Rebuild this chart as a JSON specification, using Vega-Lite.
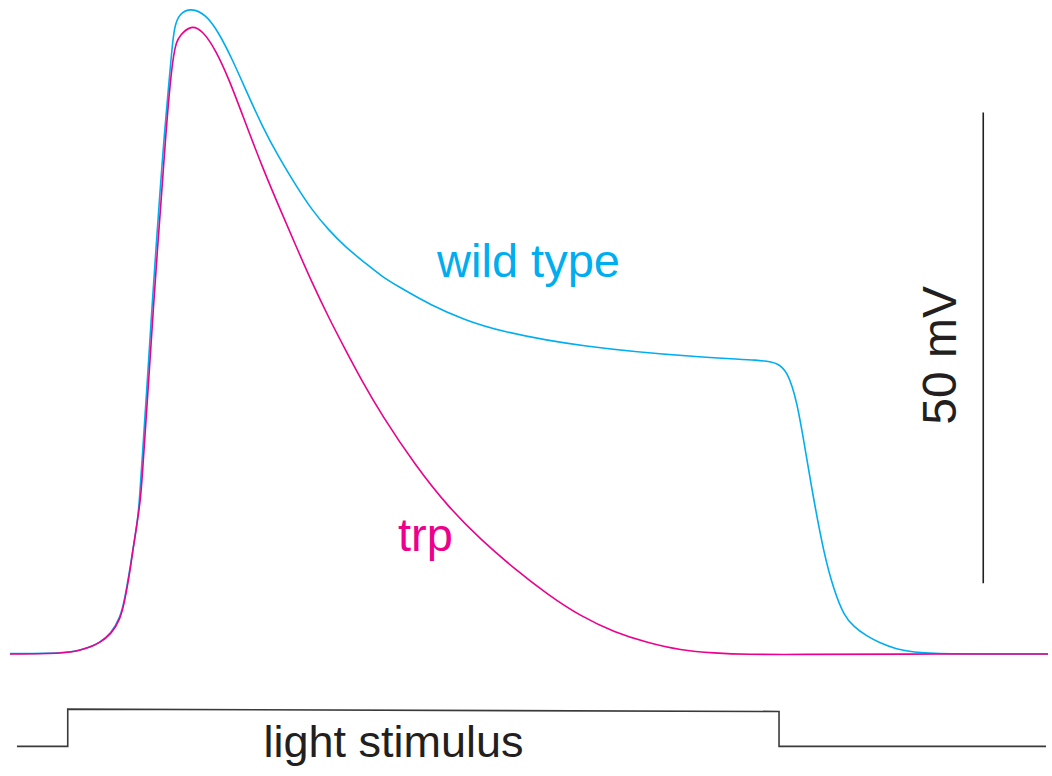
{
  "$schema": "https://vega.github.io/schema/vega-lite/v6.json",
  "width": 1052,
  "height": 776,
  "padding": 0,
  "autosize": {"type": "fit", "contains": "padding"},
  "background": "white",
  "config": {"view": {"stroke": null}},
  "datasets": {
    "traces": [
      {"series": "wild type", "t": 10, "mV": 0.05},
      {"series": "wild type", "t": 67, "mV": 0.1},
      {"series": "wild type", "t": 80, "mV": 0.4},
      {"series": "wild type", "t": 90, "mV": 0.7},
      {"series": "wild type", "t": 100, "mV": 1.2},
      {"series": "wild type", "t": 111.7, "mV": 2.2},
      {"series": "wild type", "t": 120.7, "mV": 3.9},
      {"series": "wild type", "t": 125, "mV": 5.7},
      {"series": "wild type", "t": 130.7, "mV": 9.2},
      {"series": "wild type", "t": 136, "mV": 12.8},
      {"series": "wild type", "t": 138, "mV": 14.2},
      {"series": "wild type", "t": 140, "mV": 16.3},
      {"series": "wild type", "t": 143.3, "mV": 21.7},
      {"series": "wild type", "t": 146.7, "mV": 27.0},
      {"series": "wild type", "t": 153, "mV": 37.6},
      {"series": "wild type", "t": 156.5, "mV": 42.9},
      {"series": "wild type", "t": 160, "mV": 48.2},
      {"series": "wild type", "t": 165, "mV": 55.3},
      {"series": "wild type", "t": 169.5, "mV": 60.6},
      {"series": "wild type", "t": 172.5, "mV": 64.1},
      {"series": "wild type", "t": 175, "mV": 66.6},
      {"series": "wild type", "t": 180, "mV": 68.0},
      {"series": "wild type", "t": 191.7, "mV": 68.6},
      {"series": "wild type", "t": 206.7, "mV": 67.9},
      {"series": "wild type", "t": 220, "mV": 65.9},
      {"series": "wild type", "t": 233.3, "mV": 63.1},
      {"series": "wild type", "t": 246.7, "mV": 59.9},
      {"series": "wild type", "t": 263.3, "mV": 56.0},
      {"series": "wild type", "t": 280, "mV": 52.7},
      {"series": "wild type", "t": 296.7, "mV": 49.8},
      {"series": "wild type", "t": 313.3, "mV": 47.1},
      {"series": "wild type", "t": 330, "mV": 45.0},
      {"series": "wild type", "t": 346.7, "mV": 43.2},
      {"series": "wild type", "t": 366.7, "mV": 41.5},
      {"series": "wild type", "t": 383, "mV": 40.1},
      {"series": "wild type", "t": 400, "mV": 39.0},
      {"series": "wild type", "t": 433, "mV": 37.0},
      {"series": "wild type", "t": 466, "mV": 35.5},
      {"series": "wild type", "t": 500, "mV": 34.3},
      {"series": "wild type", "t": 583, "mV": 32.6},
      {"series": "wild type", "t": 700, "mV": 31.5},
      {"series": "wild type", "t": 767, "mV": 31.2},
      {"series": "wild type", "t": 780, "mV": 30.9},
      {"series": "wild type", "t": 790, "mV": 30.1},
      {"series": "wild type", "t": 800, "mV": 27.0},
      {"series": "wild type", "t": 810, "mV": 20.6},
      {"series": "wild type", "t": 817, "mV": 16.3},
      {"series": "wild type", "t": 827, "mV": 10.7},
      {"series": "wild type", "t": 837, "mV": 6.8},
      {"series": "wild type", "t": 847, "mV": 4.1},
      {"series": "wild type", "t": 857, "mV": 2.9},
      {"series": "wild type", "t": 870, "mV": 1.9},
      {"series": "wild type", "t": 883, "mV": 1.2},
      {"series": "wild type", "t": 900, "mV": 0.5},
      {"series": "wild type", "t": 917, "mV": 0.2},
      {"series": "wild type", "t": 940, "mV": 0.0},
      {"series": "wild type", "t": 1052, "mV": 0.0},
      {"series": "trp", "t": 10, "mV": 0.0},
      {"series": "trp", "t": 67, "mV": 0.05},
      {"series": "trp", "t": 80, "mV": 0.4},
      {"series": "trp", "t": 90, "mV": 0.7},
      {"series": "trp", "t": 100, "mV": 1.2},
      {"series": "trp", "t": 111.7, "mV": 2.1},
      {"series": "trp", "t": 120.7, "mV": 3.7},
      {"series": "trp", "t": 125, "mV": 5.5},
      {"series": "trp", "t": 130.7, "mV": 8.9},
      {"series": "trp", "t": 133.3, "mV": 11.0},
      {"series": "trp", "t": 136.5, "mV": 13.1},
      {"series": "trp", "t": 139, "mV": 14.9},
      {"series": "trp", "t": 141.5, "mV": 16.8},
      {"series": "trp", "t": 144.5, "mV": 21.6},
      {"series": "trp", "t": 148, "mV": 27.0},
      {"series": "trp", "t": 154.5, "mV": 37.6},
      {"series": "trp", "t": 158, "mV": 42.9},
      {"series": "trp", "t": 161.8, "mV": 48.2},
      {"series": "trp", "t": 166.5, "mV": 55.3},
      {"series": "trp", "t": 171, "mV": 60.9},
      {"series": "trp", "t": 174.5, "mV": 63.8},
      {"series": "trp", "t": 177, "mV": 64.9},
      {"series": "trp", "t": 180, "mV": 65.6},
      {"series": "trp", "t": 191.7, "mV": 66.8},
      {"series": "trp", "t": 203.3, "mV": 66.2},
      {"series": "trp", "t": 216.7, "mV": 64.1},
      {"series": "trp", "t": 230, "mV": 61.0},
      {"series": "trp", "t": 246.7, "mV": 56.3},
      {"series": "trp", "t": 263.3, "mV": 51.7},
      {"series": "trp", "t": 280, "mV": 47.5},
      {"series": "trp", "t": 296.7, "mV": 43.4},
      {"series": "trp", "t": 313.3, "mV": 39.4},
      {"series": "trp", "t": 330, "mV": 35.7},
      {"series": "trp", "t": 346.7, "mV": 32.3},
      {"series": "trp", "t": 363.3, "mV": 29.0},
      {"series": "trp", "t": 383, "mV": 25.4},
      {"series": "trp", "t": 417, "mV": 20.0},
      {"series": "trp", "t": 450, "mV": 15.6},
      {"series": "trp", "t": 483, "mV": 12.1},
      {"series": "trp", "t": 517, "mV": 9.0},
      {"series": "trp", "t": 550, "mV": 6.3},
      {"series": "trp", "t": 583, "mV": 4.0},
      {"series": "trp", "t": 617, "mV": 2.3},
      {"series": "trp", "t": 650, "mV": 1.2},
      {"series": "trp", "t": 683, "mV": 0.4},
      {"series": "trp", "t": 717, "mV": 0.1},
      {"series": "trp", "t": 750, "mV": -0.05},
      {"series": "trp", "t": 800, "mV": -0.05},
      {"series": "trp", "t": 900, "mV": 0.0},
      {"series": "trp", "t": 1052, "mV": 0.0}
    ],
    "stimulus": [
      {"i": 0, "t": 17, "mV": -9.8},
      {"i": 1, "t": 68, "mV": -9.8},
      {"i": 2, "t": 68, "mV": -5.85},
      {"i": 3, "t": 782, "mV": -6.1},
      {"i": 4, "t": 782, "mV": -9.8},
      {"i": 5, "t": 1050, "mV": -9.8}
    ],
    "scalebar": [{"t": 987, "from": 57.5, "to": 7.5}],
    "labels": [
      {"text": "wild type", "t": 530.5, "mV": 40.0, "kind": "wild type"},
      {"text": "trp", "t": 427, "mV": 10.9, "kind": "trp"}
    ]
  },
  "layer": [
    {
      "data": {"name": "traces"},
      "mark": {"type": "line", "strokeWidth": 1.6, "interpolate": "basis"},
      "encoding": {
        "x": {"field": "t", "type": "quantitative", "scale": {"domain": [0, 1052], "nice": false, "zero": false}, "axis": null},
        "y": {"field": "mV", "type": "quantitative", "scale": {"domain": [-12.95, 69.43], "nice": false, "zero": false}, "axis": null},
        "color": {"field": "series", "type": "nominal", "scale": {"domain": ["wild type", "trp"], "range": ["#00AEEF", "#EC008C"]}, "legend": null},
        "order": {"field": "t", "type": "quantitative"}
      }
    },
    {
      "data": {"name": "stimulus"},
      "mark": {"type": "line", "strokeWidth": 1.6, "color": "#3a3a3a"},
      "encoding": {
        "x": {"field": "t", "type": "quantitative"},
        "y": {"field": "mV", "type": "quantitative"},
        "order": {"field": "i", "type": "quantitative"}
      }
    },
    {
      "data": {"name": "scalebar"},
      "mark": {"type": "rule", "strokeWidth": 1.6, "color": "#231F20"},
      "encoding": {
        "x": {"field": "t", "type": "quantitative"},
        "y": {"field": "from", "type": "quantitative"},
        "y2": {"field": "to"}
      }
    },
    {
      "data": {"name": "labels"},
      "mark": {"type": "text", "font": "Liberation Sans", "fontSize": 47, "align": "center", "baseline": "alphabetic"},
      "encoding": {
        "x": {"field": "t", "type": "quantitative"},
        "y": {"field": "mV", "type": "quantitative"},
        "text": {"field": "text"},
        "color": {"field": "kind", "type": "nominal", "legend": null}
      }
    },
    {
      "data": {"values": [{"text": "50 mV", "t": 960, "mV": 31.7}]},
      "mark": {"type": "text", "font": "Liberation Sans", "fontSize": 48, "align": "center", "baseline": "alphabetic", "angle": 270, "color": "#231F20"},
      "encoding": {
        "x": {"field": "t", "type": "quantitative"},
        "y": {"field": "mV", "type": "quantitative"},
        "text": {"field": "text"}
      }
    },
    {
      "data": {"values": [{"text": "light stimulus", "t": 395, "mV": -10.9}]},
      "mark": {"type": "text", "font": "Liberation Sans", "fontSize": 45, "align": "center", "baseline": "alphabetic", "color": "#231F20"},
      "encoding": {
        "x": {"field": "t", "type": "quantitative"},
        "y": {"field": "mV", "type": "quantitative"},
        "text": {"field": "text"}
      }
    }
  ]
}
